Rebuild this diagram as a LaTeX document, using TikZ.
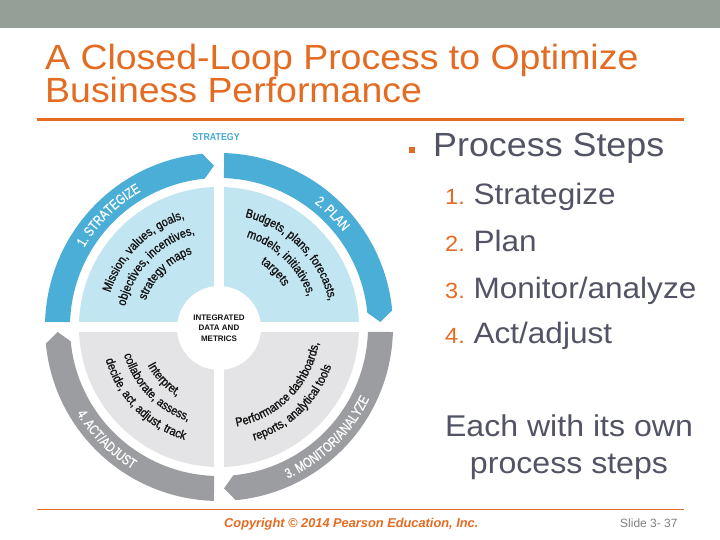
\documentclass[tikz,border=0pt]{standalone}
\usepackage{fontspec}
\setmainfont{Liberation Sans}
\newfontfamily\slidefont[FakeStretch=1.07]{Liberation Sans}
\newfontfamily\narrowfont[FakeStretch=0.88]{Liberation Sans}
\newfontfamily\qfont[FakeStretch=0.87,FakeBold=1.2]{Liberation Sans}
\newfontfamily\condfont[FakeStretch=0.78,FakeBold=0.6]{Liberation Sans}
\usetikzlibrary{decorations.text}
\definecolor{topbar}{HTML}{939F97}
\definecolor{ttlorange}{HTML}{E36C22}
\definecolor{slate}{HTML}{525466}
\definecolor{ringblue}{HTML}{4AAED6}
\definecolor{lblue}{HTML}{C2E5F2}
\definecolor{ringgrey}{HTML}{9C9DA1}
\definecolor{lgrey}{HTML}{E4E4E6}
\definecolor{stratblue}{HTML}{45A9D4}
\definecolor{qtext}{HTML}{141414}
\definecolor{footgrey}{HTML}{808080}
\newcommand{\qtxt}{\qfont\fontsize{12.5}{12.5}\selectfont\color{qtext}}
\newcommand{\ringtxt}{\condfont\fontsize{14}{14}\selectfont\color{white}}
\newcommand{\ringseg}[2]{%
  \fill[#2] ({#1-1.65}:174) arc[start angle={#1-1.65}, end angle={#1-84.5}, radius=174]
    -- ({#1-88.23}:161.5) -- ({#1-84.5}:149)
    arc[start angle={#1-84.5}, end angle={#1-1.92}, radius=149] -- cycle;}
\newcommand{\cwtext}[4]{%
  \path[decorate, decoration={text along path, text align=center, text={#4}}]
    ({#2+#3}:#1) arc[start angle={#2+#3}, end angle={#2-#3}, radius=#1];}
\newcommand{\ccwtext}[4]{%
  \path[decorate, decoration={text along path, text align=center, text={#4}}]
    ({#2-#3}:#1) arc[start angle={#2-#3}, end angle={#2+#3}, radius=#1];}
\tikzset{
  titletext/.style={anchor=base west, inner sep=0, text=ttlorange, font=\slidefont\fontsize{35}{35}\selectfont},
  bodytext/.style={anchor=base west, inner sep=0, text=slate, font=\slidefont\fontsize{29.5}{29.5}\selectfont},
}
\newcommand{\num}[1]{{\fontsize{22}{22}\selectfont\textcolor{ttlorange}{#1} }}
\begin{document}
\begin{tikzpicture}[x=1pt,y=1pt]
\useasboundingbox (0,0) rectangle (720,540);
\fill[white] (0,0) rectangle (720,540);
\fill[topbar] (0,512) rectangle (720,540);
% title
\node[titletext] (t1) at (45,470) {A Closed-Loop Process to Optimize};
\node[titletext] (t2) at (45,437) {Business Performance};
\draw[ttlorange, line width=3] (37,420) -- (684,420);
% right text
\node[fill=ttlorange, minimum size=6, inner sep=0] (bul) at (412,390) {};
\node[bodytext, font=\slidefont\fontsize{33.5}{33.5}\selectfont] (ps) at (433,383) {Process Steps};
\node[bodytext] (s1) at (445,335) {\num{1.}Strategize};
\node[bodytext] (s2) at (445,288) {\num{2.}Plan};
\node[bodytext] (s3) at (445,241) {\num{3.}Monitor/analyze};
\node[bodytext] (s4) at (445,196) {\num{4.}Act/adjust};
\node[bodytext, anchor=base, font=\slidefont\fontsize{30}{30}\selectfont] (e1) at (569,103) {Each with its own};
\node[bodytext, anchor=base, font=\slidefont\fontsize{30}{30}\selectfont] (e2) at (569,66) {process steps};
% footer
\draw[ttlorange, line width=0.8] (37,31) -- (684,31);
\node[anchor=base west, inner sep=0, text=ttlorange, font=\bfseries\itshape\fontsize{12.8}{12.8}\selectfont] (copy) at (224,12) {Copyright © 2014 Pearson Education, Inc.};
\node[anchor=base west, inner sep=0, text=footgrey, font=\fontsize{12}{12}\selectfont] (slide) at (620,12) {Slide 3- 37};
% diagram
\node[text=stratblue, inner sep=0, font=\narrowfont\bfseries\fontsize{10}{10}\selectfont] (strat) at (216,403) {STRATEGY};
\begin{scope}[shift={(219,213)}]
  \fill[lblue] (0,0) -- (90:140) arc[start angle=90, end angle=180, radius=140] -- cycle;
  \fill[lblue] (0,0) -- (0:140) arc[start angle=0, end angle=90, radius=140] -- cycle;
  \fill[lgrey] (0,0) -- (180:140) arc[start angle=180, end angle=270, radius=140] -- cycle;
  \fill[lgrey] (0,0) -- (270:140) arc[start angle=270, end angle=360, radius=140] -- cycle;
  \draw[white, line width=10] (-142,0) -- (142,0) (0,-142) -- (0,142);
  \node[circle, fill=white, minimum size=84, inner sep=0, align=center, text=qtext,
        font=\bfseries\fontsize{8}{10.5}\selectfont] (core) at (0,-1) {INTEGRATED\\DATA AND\\METRICS};
  \ringseg{180}{ringblue}
  \ringseg{90}{ringblue}
  \ringseg{0}{ringgrey}
  \ringseg{-90}{ringgrey}
  % ring labels
  \cwtext{156.5}{134.7}{40}{|\ringtxt|1. STRATEGIZE}
  \cwtext{156.5}{45}{40}{|\ringtxt|2. PLAN}
  \ccwtext{166.5}{-45.6}{40}{|\ringtxt|3. MONITOR/ANALYZE}
  \ccwtext{166.5}{225}{40}{|\ringtxt|4. ACT/ADJUST}
  % quadrant texts
  \cwtext{114}{135}{60}{|\qtxt|Mission, values, goals,}
  \cwtext{96}{136}{60}{|\qtxt|objectives, incentives,}
  \cwtext{78}{135}{60}{|\qtxt|strategy maps}
  \cwtext{113}{45}{60}{|\qtxt|Budgets, plans, forecasts,}
  \cwtext{94}{46}{60}{|\qtxt|models, initiatives,}
  \cwtext{76}{44.5}{60}{|\qtxt|targets}
  \ccwtext{101}{-44.5}{60}{|\qtxt|Performance dashboards,}
  \ccwtext{119}{-46}{60}{|\qtxt|reports, analytical tools}
  \ccwtext{81}{223.5}{60}{|\qtxt|Interpret,}
  \ccwtext{99}{224}{60}{|\qtxt|collaborate, assess,}
  \ccwtext{118}{224.5}{60}{|\qtxt|decide, act, adjust, track}
\end{scope}
\end{tikzpicture}
\end{document}
